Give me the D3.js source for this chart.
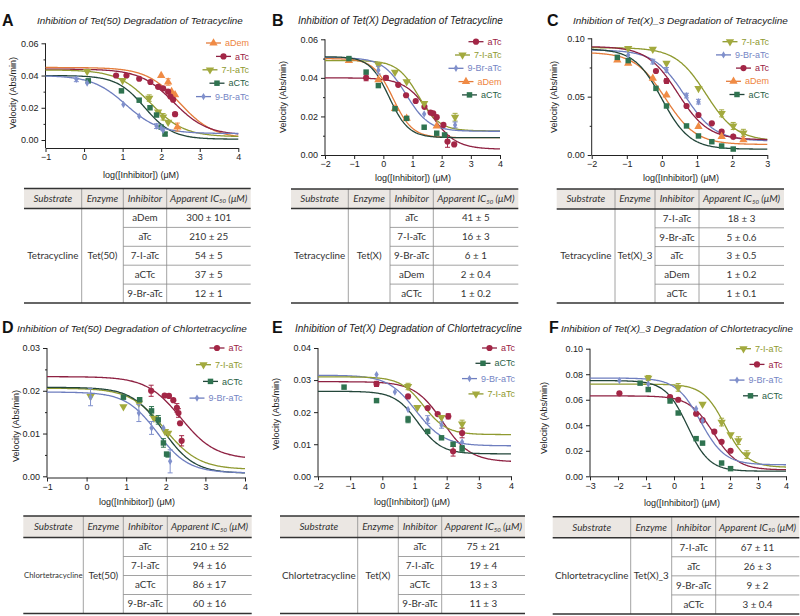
<!DOCTYPE html>
<html>
<head>
<meta charset="utf-8">
<script src="https://cdn.jsdelivr.net/npm/d3@7"></script>
<style>
body{margin:0;background:#fff}
svg{display:block}
text{font-family:"Liberation Sans",Arial,sans-serif}
.tbl text{font-family:Lato,"Liberation Sans",sans-serif}
</style>
</head>
<body>
<div id="chart"></div>
<script>
// ---- data ----
const letters = ["A","B","C","D","E","F"];
const titles = [
    "Inhibition of Tet(50) Degradation of Tetracycline",
    "Inhibition of Tet(X) Degradation of Tetracycline",
    "Inhibition of Tet(X)_3 Degradation of Tetracycline",
    "Inhibition of Tet(50) Degradation of Chlortetracycline",
    "Inhibition of Tet(X) Degradation of Chlortetracycline",
    "Inhibition of Tet(X)_3 Degradation of Chlortetracycline"
];
const substrates = ["Tetracycline","Tetracycline","Tetracycline","Chlortetracycline","Chlortetracycline","Chlortetracycline"];
const enzymes = ["Tet(50)","Tet(X)","Tet(X)_3","Tet(50)","Tet(X)","Tet(X)_3"];
const xLabel = "log([Inhibitor]) (\u03bcM)";
const yLabel = "Velocity (Abs/min)";

// x domains, y domains, y ticks
const xDomains = [[-1,4],[-2,4],[-2,3],[-1,4],[-2,4],[-3,4]];
const yDomains = [[0,0.06],[0,0.06],[0,0.10],[0,0.03],[0,0.04],[0,0.10]];
const yTicks = [
    [0,0.02,0.04,0.06],[0,0.02,0.04,0.06],[0,0.05,0.10],
    [0,0.01,0.02,0.03],[0,0.01,0.02,0.03,0.04],[0,0.02,0.04,0.06,0.08,0.10]
];
const yMinor = [[0.01,0.03,0.05],[0.01,0.03,0.05],[0.025,0.075],[0.005,0.015,0.025],[],[]];

// legend order per panel
const seriesA = ["aDem","aTc","7-I-aTc","aCTc","9-Br-aTc"];
const seriesB = ["aTc","7-I-aTc","9-Br-aTc","aDem","aCTc"];
const seriesC = ["7-I-aTc","9-Br-aTc","aTc","aDem","aCTc"];
const seriesD = ["aTc","7-I-aTc","aCTc","9-Br-aTc"];
const seriesE = ["aTc","aCTc","9-Br-aTc","7-I-aTc"];
const seriesF = ["7-I-aTc","aTc","9-Br-aTc","aCTc"];

// fitted curves: [top, bottom, logIC50, hill]
const fitsA = [[0.045,0.001,2.48,1],[0.044,0.003,2.32,1],[0.0435,0.002,1.73,1],[0.040,0.0005,1.57,1.2],[0.040,0.004,1.08,1]];
const fitsB = [[0.040,0.003,1.61,1],[0.049,0.0125,1.2,1.2],[0.0505,0.0123,0.78,1.1],[0.050,0.009,0.33,1.3],[0.051,0.009,0.2,1.3]];
const fitsC = [[0.092,0.012,1.26,1],[0.090,0.012,0.65,1],[0.093,0.013,0.45,1],[0.088,0.009,0.1,1],[0.091,0.005,0.0,1.1]];
const fitsD = [[0.0233,0.004,2.38,1],[0.0206,0.0016,1.97,1],[0.0208,0.0007,1.93,1.1],[0.0197,0.0008,1.78,1.1]];
const fitsE = [[0.0295,0.0045,1.875,1],[0.0265,0.007,1.11,1.2],[0.0315,0.0095,1.04,1],[0.031,0.013,1.28,1.2]];
const fitsF = [[0.0722,0.007,1.83,1.1],[0.063,0.005,1.41,1],[0.077,0.009,0.95,1],[0.075,0.004,0.48,1.1]];

// measured points: [log conc, velocity, error]
const pointsA = [
    [[2.0,0.040],[2.18,0.036,0.002],[2.27,0.030],[2.36,0.028],[2.42,0.008,0.0025]],
    [[0.83,0.040],[1.10,0.040],[1.43,0.038],[1.72,0.036],[1.92,0.033],[2.05,0.032],[2.18,0.030],[2.24,0.027],[2.31,0.025],[2.36,0.016,0.001]],
    [[0.08,0.0426],[1.0,0.037],[1.69,0.026,0.002],[1.92,0.0175],[2.05,0.0144,0.002],[2.18,0.011]],
    [[0.11,0.0367,0.001],[0.97,0.0305],[1.43,0.0247],[1.71,0.020],[1.88,0.0155],[2.0,0.008],[2.1,0.0037,0.001]],
    [[-0.2,0.0377,0.0015],[0.08,0.0354],[1.02,0.022],[1.43,0.0148],[1.88,0.0086,0.0015],[2.0,0.0074],[2.05,0.006]]
];
const pointsB = [
    [[-0.59,0.040,0.0015],[0.09,0.040,0.001],[0.51,0.0364],[0.78,0.031],[1.11,0.028],[1.41,0.025],[1.62,0.022],[1.71,0.0216],[1.83,0.0196],[2.06,0.0156],[2.2,0.007,0.003],[2.43,0.0055]],
    [[-0.17,0.0468],[0.4,0.043],[0.8,0.038],[1.4,0.0268],[2.46,0.0196,0.002]],
    [[-0.17,0.044,0.002],[1.4,0.0213],[2.46,0.0156,0.0015]],
    [[-1.18,0.049],[-0.17,0.039],[0.4,0.024],[0.8,0.019],[1.83,0.015]],
    [[-1.18,0.050],[-0.59,0.043],[-0.17,0.036],[0.4,0.024],[0.8,0.019],[1.4,0.0144],[1.83,0.0113],[2.1,0.0104]]
];
const pointsC = [
    [[-0.96,0.0914],[-0.26,0.0906],[0.13,0.0786],[1.04,0.0571],[1.70,0.0357,0.003],[2.03,0.0249,0.003],[2.32,0.019,0.003]],
    [[-0.96,0.0857],[-0.26,0.080,0.002],[0.13,0.0729,0.002],[0.70,0.0509,0.002],[1.04,0.0457,0.002],[2.03,0.0157]],
    [[-0.17,0.072],[0.13,0.0634,0.002],[0.70,0.042],[1.04,0.0343],[1.42,0.0271],[1.70,0.020],[2.03,0.0157]],
    [[-1.27,0.0814],[-0.96,0.0786],[-0.26,0.0657],[0.13,0.0514],[1.04,0.0243],[1.70,0.0157],[2.32,0.0129]],
    [[-1.27,0.0837],[-0.96,0.0809],[-0.17,0.0571],[0.13,0.042],[0.70,0.0249],[1.04,0.0163],[1.42,0.0114],[1.70,0.0077],[2.03,0.0051]]
];
const pointsD = [
    [[1.63,0.0200,0.0013],[1.97,0.0189],[2.08,0.0188],[2.19,0.0178],[2.28,0.016,0.001],[2.32,0.0148,0.001],[2.36,0.0124],[2.40,0.0083,0.0012]],
    [[0.1,0.0187],[0.93,0.0163],[1.32,0.0171],[1.70,0.0136],[1.98,0.0105],[2.06,0.0101]],
    [[0.93,0.0185],[1.34,0.0179],[1.64,0.0153,0.001],[1.81,0.0132,0.001],[1.94,0.0078,0.001],[2.02,0.0052],[2.06,0.005]],
    [[0.1,0.0185,0.002],[1.32,0.0148,0.002],[1.64,0.0113,0.0015],[1.94,0.0113],[2.11,0.0035,0.0027]]
];
const pointsE = [
    [[-0.18,0.0288,0.0008],[0.80,0.0249],[1.41,0.0213],[1.72,0.0194],[2.05,0.0187,0.0008],[2.2,0.0078,0.0015],[2.48,0.0135,0.0015]],
    [[-1.19,0.0278],[-0.18,0.0236],[0.80,0.0177,0.001],[1.41,0.014],[1.84,0.012],[2.2,0.010],[2.48,0.0086,0.001]],
    [[-0.18,0.0317],[0.39,0.0263],[0.80,0.0208],[1.41,0.0177,0.0012],[1.84,0.016,0.001],[2.48,0.0107]],
    [[0.8,0.028,0.001],[1.09,0.0215],[1.84,0.0184],[2.48,0.0163,0.0012]]
];
const pointsF = [
    [[-0.92,0.077,0.002],[0.15,0.0697,0.003],[1.02,0.0566],[1.70,0.0425,0.003],[2.02,0.0326],[2.30,0.028,0.003],[2.60,0.017,0.003]],
    [[-1.95,0.065],[-0.14,0.062],[0.15,0.060],[0.79,0.049],[1.02,0.044],[1.44,0.035],[1.70,0.027],[2.02,0.020]],
    [[-1.95,0.075],[-0.92,0.0723],[0.79,0.053],[1.02,0.0436]],
    [[-1.21,0.073],[-0.92,0.068],[-0.14,0.059],[0.15,0.0496],[0.79,0.0295],[1.02,0.026],[1.70,0.0104],[2.02,0.006]]
];

// tables
const inhibA = ["aDem","aTc","7-I-aTc","aCTc","9-Br-aTc"];
const ic50A = ["300 \u00b1 101","210 \u00b1 25","54 \u00b1 5","37 \u00b1 5","12 \u00b1 1"];
const inhibB = ["aTc","7-I-aTc","9-Br-aTc","aDem","aCTc"];
const ic50B = ["41 \u00b1 5","16 \u00b1 3","6 \u00b1 1","2 \u00b1 0.4","1 \u00b1 0.2"];
const inhibC = ["7-I-aTc","9-Br-aTc","aTc","aDem","aCTc"];
const ic50C = ["18 \u00b1 3","5 \u00b1 0.6","3 \u00b1 0.5","1 \u00b1 0.2","1 \u00b1 0.1"];
const inhibD = ["aTc","7-I-aTc","aCTc","9-Br-aTc"];
const ic50D = ["210 \u00b1 52","94 \u00b1 16","86 \u00b1 17","60 \u00b1 16"];
const inhibE = ["aTc","7-I-aTc","aCTc","9-Br-aTc"];
const ic50E = ["75 \u00b1 21","19 \u00b1 4","13 \u00b1 3","11 \u00b1 3"];
const inhibF = ["7-I-aTc","aTc","9-Br-aTc","aCTc"];
const ic50F = ["67 \u00b1 11","26 \u00b1 3","9 \u00b1 2","3 \u00b1 0.4"];

// ---- styles ----
const markColor = {"aDem":"#f08b45","aTc":"#a32646","7-I-aTc":"#a3aa3e","aCTc":"#2f7350","9-Br-aTc":"#8090cc"};
const lineColor = {"aDem":"#e47c3b","aTc":"#8e2142","7-I-aTc":"#8f9a30","aCTc":"#23463a","9-Br-aTc":"#6e7ebf"};
const textColor = {"aDem":"#ee8440","aTc":"#9a2344","7-I-aTc":"#8f9a30","aCTc":"#2a5e45","9-Br-aTc":"#7585c4"};
const symType = {"aDem":d3.symbolTriangle,"aTc":d3.symbolCircle,"7-I-aTc":d3.symbolTriangle,"aCTc":d3.symbolSquare,"9-Br-aTc":d3.symbolDiamond};
const symSize = {"aDem":30,"aTc":30,"7-I-aTc":30,"aCTc":30,"9-Br-aTc":16};

// ---- layout (pixel positions of each panel) ----
const layout = [
    {plot:[45.5,238.3,43.3,140,148], letter:[2,25.5], title:[37,23.5,206], ylab:[13,93], xlab:[141,178], legend:[249,43,13.4], cols:[24,81.7,123.3,166.7,250.7], rows:[188.5,208.5,303]},
    {plot:[325,500,39.3,155,155], letter:[272,25.5], title:[298,23.5,205], ylab:[283,97], xlab:[413,181], legend:[501.5,41.7,13.3], cols:[291,348.3,390,433.3,518.3], rows:[189,208.5,303]},
    {plot:[591.7,767.3,38.3,155,155], letter:[547,25.5], title:[573,23.5,215], ylab:[554,97], xlab:[681,181], legend:[769,41.7,13.2], cols:[556.7,615,655,699,784], rows:[189,209,303]},
    {plot:[47,245,348,476.3,477.5], letter:[2,333], title:[17,331.5,230], ylab:[16,426], xlab:[137,505], legend:[242.5,348,16.7], cols:[23.3,83.3,123.3,167.3,251.7], rows:[516,537.5,613.5]},
    {plot:[318,511,348,476.3,476.3], letter:[272,333], title:[295,331.5,227], ylab:[276,414], xlab:[412,505], legend:[515,348,15.3], cols:[280,357.7,398.3,441.7,525], rows:[516,537.5,613.5]},
    {plot:[590,786,348.7,476.3,476.3], letter:[549,333], title:[561,331.5,232], ylab:[544,418], xlab:[682,506], legend:[782.5,348.7,15.7], cols:[552.7,630.7,671.7,715.7,799.3], rows:[516.7,537.7,614]}
];

const allSeries = [seriesA,seriesB,seriesC,seriesD,seriesE,seriesF];
const allFits = [fitsA,fitsB,fitsC,fitsD,fitsE,fitsF];
const allPoints = [pointsA,pointsB,pointsC,pointsD,pointsE,pointsF];
const allInhib = [inhibA,inhibB,inhibC,inhibD,inhibE,inhibF];
const allIc50 = [ic50A,ic50B,ic50C,ic50D,ic50E,ic50F];

let svg = d3.select("#chart").append("svg")
    .attr("width", 800)
    .attr("height", 616);

function symbolPath(name) {
    return d3.symbol().type(symType[name]).size(symSize[name])();
}
function symbolTransform(name, x, y) {
    //7-I-aTc uses a downward triangle
    return "translate(" + x + "," + y + ")" + (name == "7-I-aTc" ? " rotate(180)" : "");
}

function drawPanel(i) {
    let L = layout[i];
    let [left, right, top, bottom, axisY] = L.plot;
    let g = svg.append("g");

    let x = d3.scaleLinear().domain(xDomains[i]).range([left, right]);
    let y = d3.scaleLinear().domain(yDomains[i]).range([bottom, top]);

    // panel letter and title (title font scaled to the width seen in the figure)
    g.append("text").attr("x", L.letter[0]).attr("y", L.letter[1])
        .text(letters[i]).style("font-size", "16px").style("font-weight", "bold").style("fill", "#111");
    let tt = g.append("text").attr("x", L.title[0]).attr("y", L.title[1])
        .text(titles[i]).style("font-size", "10px").style("font-style", "italic").style("fill", "#222");
    let tw = tt.node().getComputedTextLength();
    tt.style("font-size", (10 * L.title[2] / tw).toFixed(2) + "px");

    // y axis
    let yAxis = g.append("g").attr("transform", "translate(" + left + ",0)")
        .call(d3.axisLeft(y).tickValues(yTicks[i]).tickFormat(d3.format(".2f")).tickSize(4).tickPadding(3));
    yAxis.select(".domain").remove();
    g.append("g").attr("transform", "translate(" + left + ",0)")
        .call(d3.axisLeft(y).tickValues(yMinor[i]).tickFormat("").tickSize(2))
        .select(".domain").remove();
    g.append("line").attr("x1", left).attr("x2", left).attr("y1", top).attr("y2", axisY)
        .attr("stroke", "#222").attr("stroke-width", 1);

    // x axis
    let xAxis = g.append("g").attr("transform", "translate(0," + axisY + ")")
        .call(d3.axisBottom(x).tickValues(d3.range(xDomains[i][0], xDomains[i][1] + 1)).tickFormat(d3.format("d")).tickSize(4).tickPadding(2).tickSizeOuter(0));
    xAxis.select(".domain").attr("stroke", "#222");
    g.selectAll(".tick line").attr("stroke", "#222");
    g.selectAll(".tick text").style("font-size", "9px").style("fill", "#222").style("font-family", "'Liberation Sans',Arial,sans-serif");

    // axis labels
    g.append("text").attr("x", L.xlab[0]).attr("y", L.xlab[1]).attr("text-anchor", "middle")
        .text(xLabel).style("font-size", "9px").style("fill", "#222");
    g.append("text").attr("transform", "translate(" + L.ylab[0] + "," + L.ylab[1] + ") rotate(-90)")
        .attr("text-anchor", "middle").attr("dy", "0.35em")
        .text(yLabel).style("font-size", "9px").style("fill", "#222");

    let names = allSeries[i];

    // fitted curves (4-parameter logistic, parameters)
    let line = d3.line()
        .x(function(d) { return x(d[0]) })
        .y(function(d) { return y(d[1]) });
    let xs = d3.range(0, 201).map(function(k) { return xDomains[i][0] + k * (xDomains[i][1] - xDomains[i][0]) / 200 });
    names.forEach(function(name, s) {
        let [t, b, c, h] = allFits[i][s];
        let curve = xs.map(function(v) { return [v, b + (t - b) / (1 + Math.pow(10, h * (v - c)))] });
        g.append("path").attr("d", line(curve))
            .attr("fill", "none").attr("stroke", lineColor[name]).attr("stroke-width", 1.3);
    });

    // points + error bars
    names.forEach(function(name, s) {
        let pts = allPoints[i][s];
        let sg = g.append("g");
        pts.filter(function(d) { return d[2] }).forEach(function(d) {
            let px = x(d[0]), y1 = y(d[1] - d[2]), y2 = y(d[1] + d[2]);
            sg.append("line").attr("x1", px).attr("x2", px).attr("y1", y1).attr("y2", y2)
                .attr("stroke", markColor[name]).attr("stroke-width", 1);
            [y1, y2].forEach(function(yy) {
                sg.append("line").attr("x1", px - 2.5).attr("x2", px + 2.5).attr("y1", yy).attr("y2", yy)
                    .attr("stroke", markColor[name]).attr("stroke-width", 1);
            });
        });
        sg.selectAll("path")
            .data(pts)
            .enter()
            .append("path")
            .attr("d", symbolPath(name))
            .attr("transform", function(d) { return symbolTransform(name, x(d[0]), y(d[1])) })
            .attr("fill", markColor[name]);
    });

    // legend
    let [lx, ly, ldy] = L.legend;
    names.forEach(function(name, s) {
        let yy = ly + s * ldy;
        let t = g.append("text").attr("x", lx).attr("y", yy).attr("dy", "0.35em").attr("text-anchor", "end")
            .text(name).style("font-size", "9px").style("fill", textColor[name]);
        let w = t.node().getComputedTextLength();
        let x2 = lx - w - 4, x1 = x2 - 15;
        g.append("line").attr("x1", x1).attr("x2", x2).attr("y1", yy).attr("y2", yy)
            .attr("stroke", lineColor[name]).attr("stroke-width", 1.3);
        g.append("path").attr("d", symbolPath(name))
            .attr("transform", symbolTransform(name, (x1 + x2) / 2, yy))
            .attr("fill", markColor[name]);
    });

    drawTable(i);
}

//shrink a cell text's font when it is wider than its column
function fitCell(t, width) {
    let w = t.node().getComputedTextLength();
    if (w > width) {
        let fs = parseFloat(t.style("font-size"));
        t.style("font-size", (fs * width / w).toFixed(2) + "px");
    }
}

function drawTable(i) {
    let L = layout[i];
    let [c0, c1, c2, c3, c4] = L.cols;
    let [top, head, bottom] = L.rows;
    let inhib = allInhib[i], ic = allIc50[i];
    let n = inhib.length, rh = (bottom - head) / n;
    let g = svg.append("g").attr("class", "tbl");
    let fs = "9.8px";

    g.append("rect").attr("x", c0).attr("y", top).attr("width", c4 - c0).attr("height", head - top).attr("fill", "#ebe7e3");
    [c1, c2, c3].forEach(function(cx) {
        g.append("line").attr("x1", cx).attr("x2", cx).attr("y1", top).attr("y2", bottom)
            .attr("stroke", "#8a8a8a").attr("stroke-width", 0.8);
    });
    d3.range(1, n).forEach(function(k) {
        g.append("line").attr("x1", c2).attr("x2", c4).attr("y1", head + k * rh).attr("y2", head + k * rh)
            .attr("stroke", "#8a8a8a").attr("stroke-width", 0.8);
    });
    [top, head, bottom].forEach(function(yy) {
        g.append("line").attr("x1", c0).attr("x2", c4).attr("y1", yy).attr("y2", yy)
            .attr("stroke", "#333").attr("stroke-width", 1.6);
    });

    let edges = [c0, c1, c2, c3, c4];
    let mids = [(c0 + c1) / 2, (c1 + c2) / 2, (c2 + c3) / 2, (c3 + c4) / 2];
    let hy = (top + head) / 2;
    ["Substrate", "Enzyme", "Inhibitor"].forEach(function(h, k) {
        let t = g.append("text").attr("x", mids[k]).attr("y", hy).attr("dy", "0.35em").attr("text-anchor", "middle")
            .text(h).style("font-size", fs).style("font-style", "italic").style("fill", "#333");
        fitCell(t, edges[k + 1] - edges[k] - 4);
    });
    let ht = g.append("text").attr("x", mids[3]).attr("y", hy).attr("dy", "0.35em").attr("text-anchor", "middle")
        .style("font-size", fs).style("font-style", "italic").style("fill", "#333");
    ht.append("tspan").text("Apparent IC");
    ht.append("tspan").text("50").style("font-size", "6px").attr("dy", "1.5");
    ht.append("tspan").text(" (\u03bcM)").attr("dy", "-1.5");

    let by = (head + bottom) / 2;
    let st = g.append("text").attr("x", mids[0]).attr("y", by).attr("dy", "0.35em").attr("text-anchor", "middle")
        .text(substrates[i]).style("font-size", fs).style("fill", "#333");
    fitCell(st, c1 - c0 - 1.5);
    let et = g.append("text").attr("x", mids[1]).attr("y", by).attr("dy", "0.35em").attr("text-anchor", "middle")
        .text(enzymes[i]).style("font-size", fs).style("fill", "#333");
    fitCell(et, c2 - c1 - 3);
    inhib.forEach(function(name, k) {
        let ry = head + (k + 0.5) * rh;
        let it = g.append("text").attr("x", mids[2]).attr("y", ry).attr("dy", "0.35em").attr("text-anchor", "middle")
            .text(name).style("font-size", fs).style("fill", "#333");
        fitCell(it, c3 - c2 - 4);
        g.append("text").attr("x", mids[3]).attr("y", ry).attr("dy", "0.35em").attr("text-anchor", "middle")
            .text(ic[k]).style("font-size", fs).style("fill", "#333");
    });
}

d3.range(6).forEach(drawPanel);
</script>
</body>
</html>
